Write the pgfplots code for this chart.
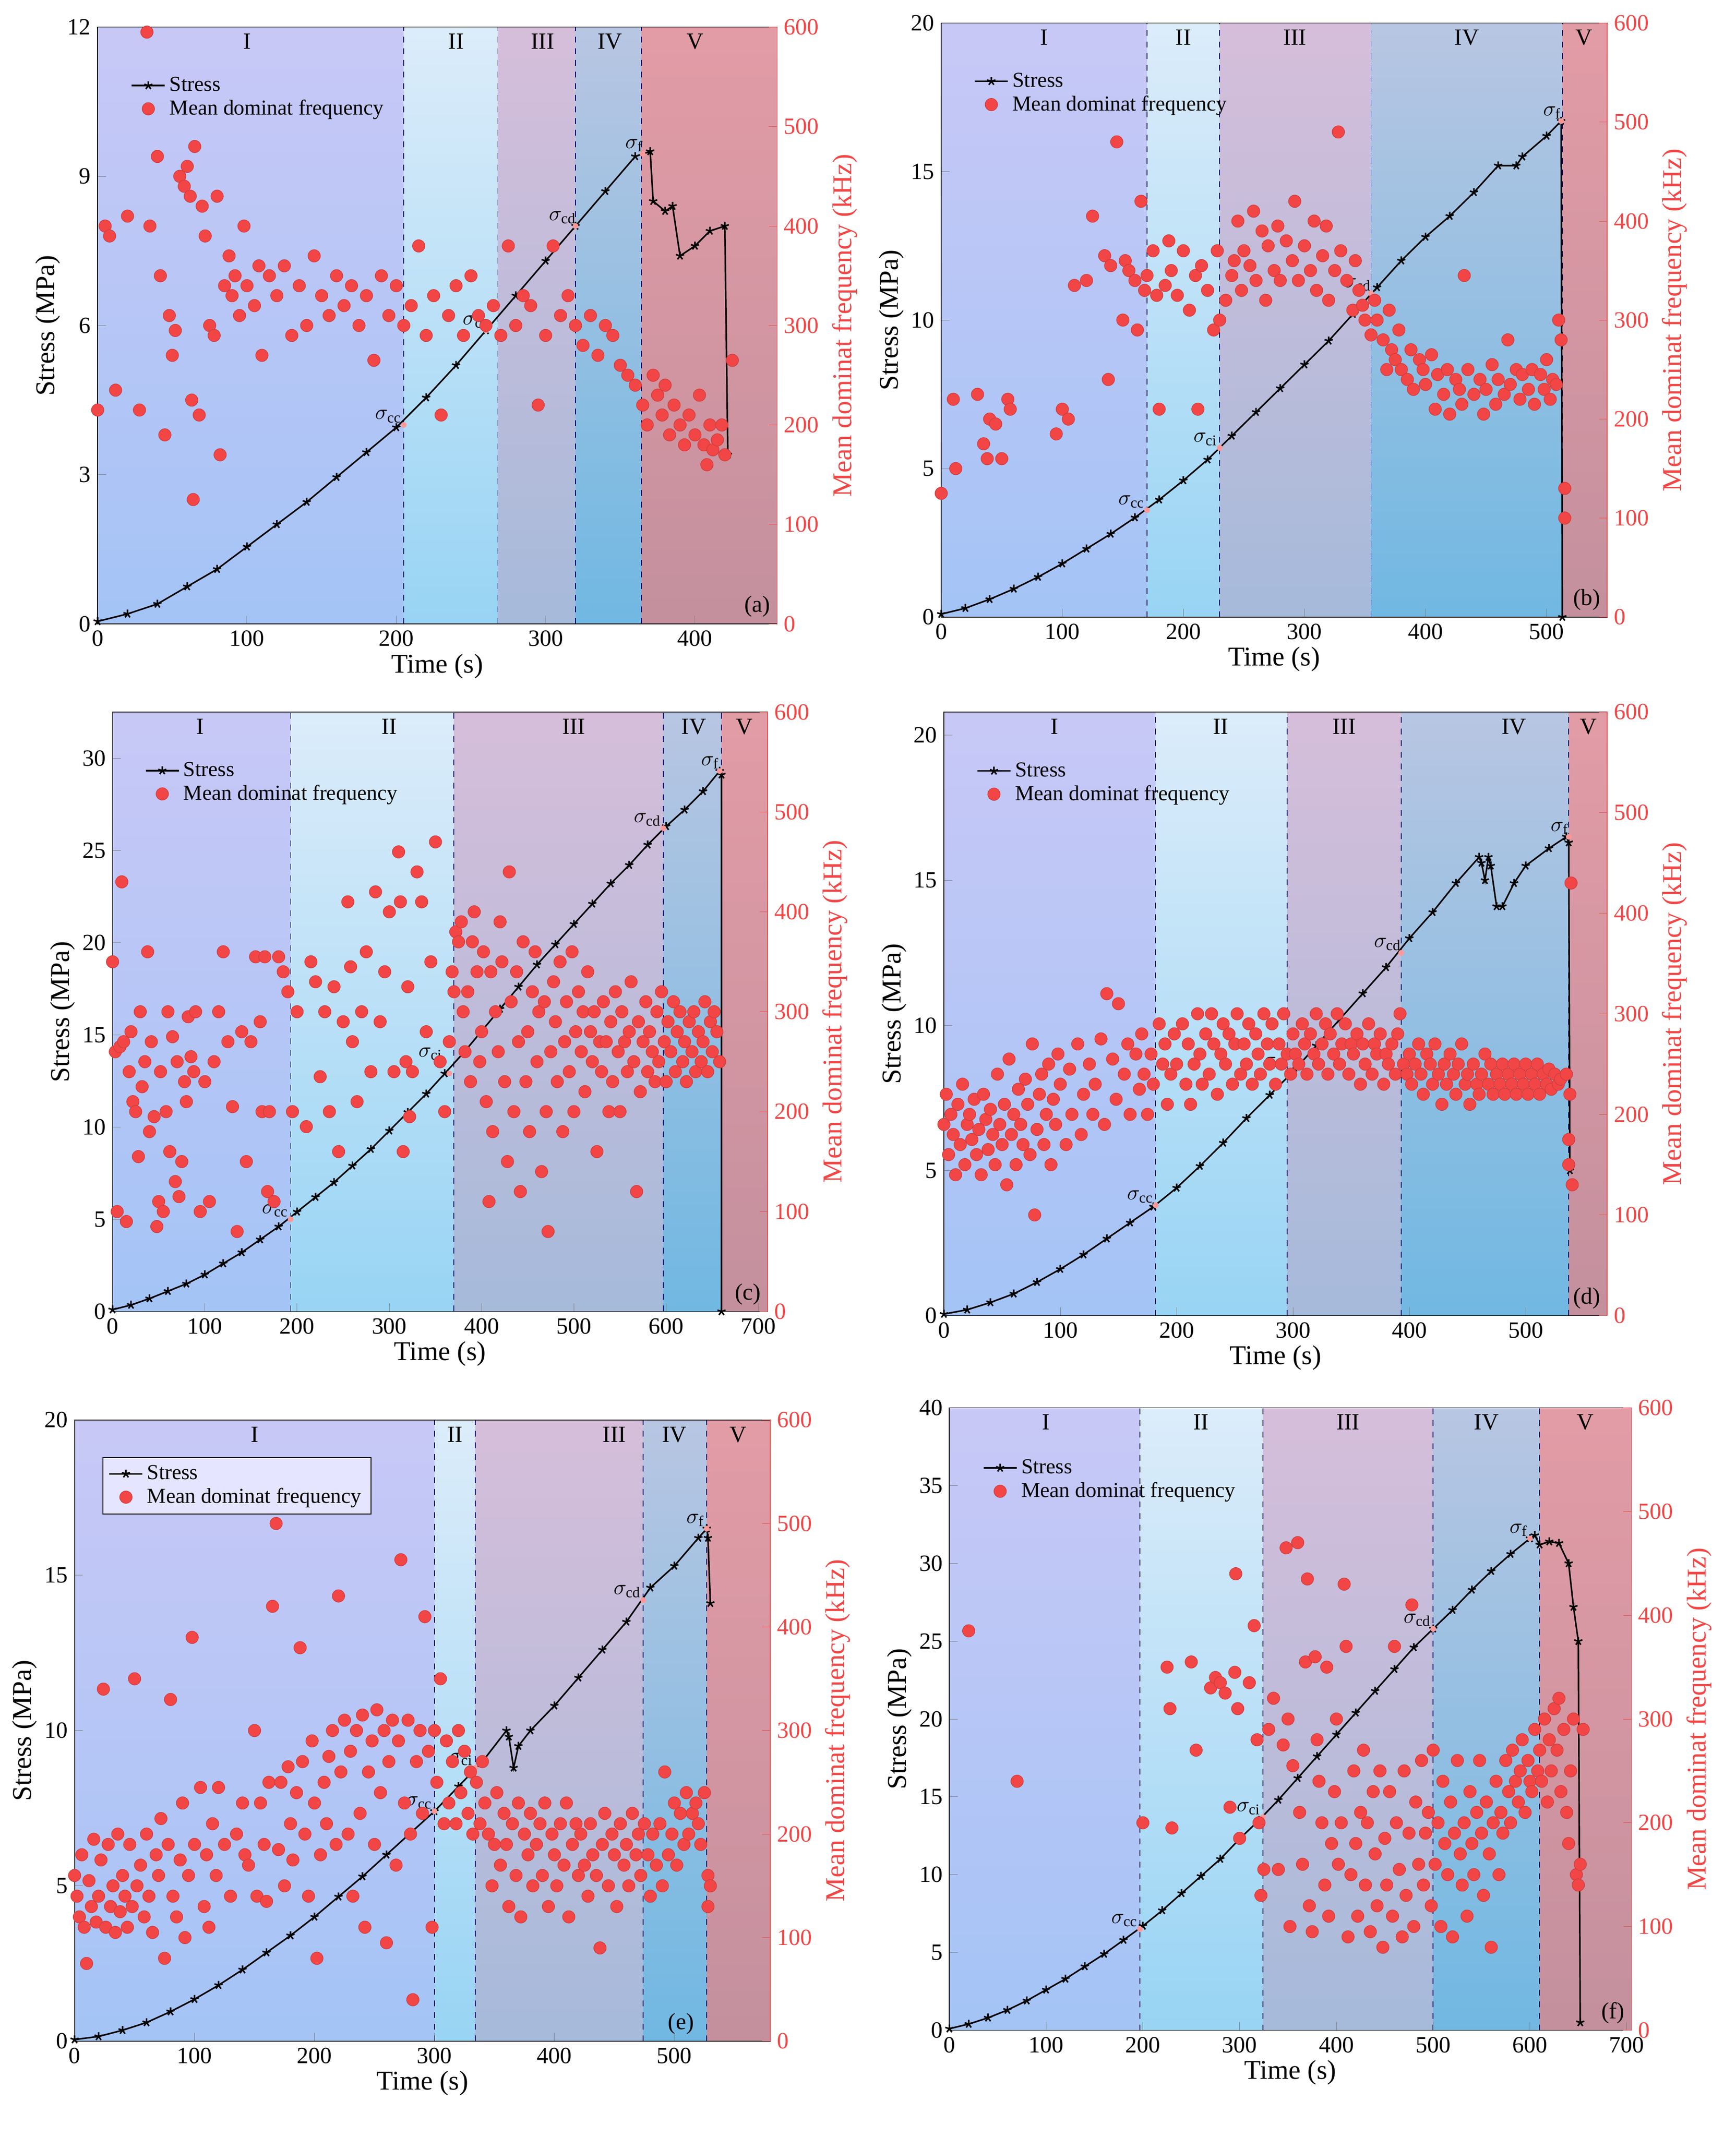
\documentclass[border=0pt]{standalone}
\usepackage{pgfplots}
\pgfplotsset{compat=1.18}
\usepackage{fontspec}
\setmainfont{Liberation Serif}
\usetikzlibrary{shadings}
\definecolor{rIt}{HTML}{C8C8F6}\definecolor{rIb}{HTML}{A4C4F6}
\definecolor{rIIt}{HTML}{DCECFA}\definecolor{rIIb}{HTML}{98D4F4}
\definecolor{rIIIt}{HTML}{D6BEDA}\definecolor{rIIIb}{HTML}{A6BADA}
\definecolor{rIVt}{HTML}{B8C6E2}\definecolor{rIVb}{HTML}{70B8E2}
\definecolor{rVt}{HTML}{E29CA6}\definecolor{rVb}{HTML}{C4909E}
\definecolor{fr}{HTML}{F24646}
\newcommand\reg[5]{\fill[top color=#4,bottom color=#5,draw=none] (axis cs:#1,0) rectangle (axis cs:#2,#3);}
\newcommand\dv[2]{\draw[dashed,color=blue!40!black,thin] (axis cs:#1,0) -- (axis cs:#1,#2);}
\newcommand\rl[3]{\node[anchor=north,font=\fontsize{12}{14}\selectfont] at (axis cs:#1,#2) {#3};}
\pgfplotsset{
 leftax/.style={scale only axis, axis on top, xmin=0, ymin=0, tick align=inside,
   xtick pos=bottom, ytick pos=left, xlabel={Time (s)}, ylabel={Stress (MPa)},
   /pgf/number format/assume math mode=true,
   ticklabel style={font=\fontsize{12}{14}\selectfont},
   label style={font=\fontsize{14}{16}\selectfont},
   xlabel style={yshift=3pt}, ylabel style={yshift=-3pt},
   legend style={draw=none,fill=none,at={(0.04,0.93)},anchor=north west,font=\fontsize{11}{13}\selectfont,row sep=-1pt},
   legend cell align=left},
 rightax/.style={scale only axis, xmin=0, ymin=0, ymax=600, ytick={0,100,...,600},
   axis x line=none, axis y line*=right, tick align=inside,
   /pgf/number format/assume math mode=true,
   y axis line style={fr}, ytick style={fr},
   yticklabel style={font=\fontsize{12}{14}\selectfont, text=fr},
   ylabel={Mean dominat frequency (kHz)},
   ylabel style={font=\fontsize{14}{16}\selectfont, text=fr}},
 st/.style={black, thick, mark=star, mark size=2.2pt, mark options={solid}},
 fq/.style={only marks, mark=*, mark size=3.2pt, mark options={fill=fr, draw=fr!85!black, line width=0.3pt}},
 sg/.style={only marks, mark=*, mark size=1.3pt, color=pink!80!red},
}
\newcommand\mylg{\addlegendimage{st}\addlegendentry{Stress}\addlegendimage{fq}\addlegendentry{Mean dominat frequency}}
\newcommand\sgl[3]{\node[font=\fontsize{11}{12}\selectfont,anchor=south east,inner sep=1pt] at (axis cs:#1,#2) {$\sigma_{\mathrm{#3}}$};}
\begin{document}
\begin{tikzpicture}
\path[use as bounding box] (0,0) rectangle (896pt,-1103pt);
% ---------------- (a)
\begin{axis}[leftax, at={(50.4pt,-322pt)}, width=350.7pt, height=308pt, xmax=455, ymax=12, ytick={0,3,...,12}, xtick={0,100,...,400}]
\reg{0}{205}{12}{rIt}{rIb}\reg{205}{268}{12}{rIIt}{rIIb}\reg{268}{320}{12}{rIIIt}{rIIIb}\reg{320}{364}{12}{rIVt}{rIVb}\reg{364}{455}{12}{rVt}{rVb}
\dv{205}{12}\dv{268}{12}\dv{320}{12}\dv{364}{12}
\rl{100}{12}{I}\rl{240}{12}{II}\rl{298}{12}{III}\rl{343}{12}{IV}\rl{400}{12}{V}
\mylg
\addplot[st] coordinates {(0,0.05)(20,0.2)(40,0.4)(60,0.75)(80,1.1)(100,1.55)(120,2)(140,2.45)(160,2.95)(180,3.45)(200,3.95)(220,4.55)(240,5.2)(260,5.9)(280,6.6)(300,7.3)(320,8.0)(340,8.7)(360,9.4)(370,9.5)(372,8.5)(380,8.3)(385,8.4)(390,7.4)(400,7.6)(410,7.9)(420,8.0)(422,3.4)};
\addplot[sg] coordinates {(205,4.0)(260,5.9)(320,8.0)(365,9.45)};
\sgl{205}{4.0}{cc}\sgl{262}{5.9}{ci}\sgl{322}{8.0}{cd}\sgl{367}{9.45}{f}
\node[anchor=south east,font=\fontsize{12}{14}\selectfont] at (rel axis cs:1,0) {(a)};
\end{axis}
\begin{axis}[rightax, at={(50.4pt,-322pt)}, width=350.7pt, height=308pt, xmax=455]
\addplot[fq] table {
33 595
0 215
5 400
8 390
12 235
20 410
28 215
35 400
40 470
42 350
45 190
48 310
50 270
52 295
55 450
58 440
60 460
62 430
63 225
64 125
65 480
68 210
70 420
72 390
75 300
78 290
80 430
82 170
85 340
88 370
90 330
92 350
95 310
98 400
100 340
105 320
108 360
110 270
115 350
120 330
125 360
130 290
135 340
140 300
145 370
150 330
155 310
160 350
165 320
170 340
175 300
180 330
185 265
190 350
195 310
200 340
205 300
210 320
215 380
220 290
225 330
230 210
235 310
240 340
245 290
250 350
255 310
260 300
265 320
270 290
275 380
280 300
285 330
290 320
295 220
300 290
305 380
310 310
315 330
320 300
325 280
330 310
335 270
340 300
345 290
350 260
355 250
360 240
365 220
368 200
372 250
375 230
378 210
380 240
383 190
386 220
390 200
393 180
396 210
400 190
403 230
406 180
408 160
410 200
412 175
415 185
418 200
420 170
425 265
};
\end{axis}
% ---------------- (b)
\begin{axis}[leftax, at={(485.8pt,-318.5pt)}, width=343.7pt, height=306.6pt, xmax=550, ymax=20, ytick={0,5,...,20}, xtick={0,100,...,500}]
\reg{0}{170}{20}{rIt}{rIb}\reg{170}{230}{20}{rIIt}{rIIb}\reg{230}{355}{20}{rIIIt}{rIIIb}\reg{355}{513}{20}{rIVt}{rIVb}\reg{513}{550}{20}{rVt}{rVb}
\dv{170}{20}\dv{230}{20}\dv{355}{20}\dv{513}{20}
\rl{85}{20}{I}\rl{200}{20}{II}\rl{292}{20}{III}\rl{434}{20}{IV}\rl{531}{20}{V}
\mylg
\addplot[st] coordinates {(0,0.1)(20,0.3)(40,0.6)(60,0.95)(80,1.35)(100,1.8)(120,2.3)(140,2.8)(160,3.35)(180,3.95)(200,4.6)(220,5.3)(240,6.1)(260,6.9)(280,7.7)(300,8.5)(320,9.3)(340,10.2)(360,11.1)(380,12.0)(400,12.8)(420,13.5)(440,14.3)(460,15.2)(475,15.2)(480,15.5)(500,16.2)(512,16.7)(513,0)};
\addplot[sg] coordinates {(170,3.6)(230,5.7)(355,10.9)(512,16.7)};
\sgl{170}{3.6}{cc}\sgl{230}{5.7}{ci}\sgl{357}{10.9}{cd}\sgl{514}{16.7}{f}
\node[anchor=south east,font=\fontsize{12}{14}\selectfont] at (rel axis cs:1,0) {(b)};
\end{axis}
\begin{axis}[rightax, at={(485.8pt,-318.5pt)}, width=343.7pt, height=306.6pt, xmax=550]
\addplot[fq] table {
0 125
10 220
12 150
30 225
35 175
38 160
40 200
45 195
50 160
55 220
57 210
95 185
100 210
105 200
110 335
120 340
125 405
135 365
138 240
140 355
145 480
150 300
152 360
155 350
160 340
162 290
165 420
168 330
170 345
175 370
178 325
180 210
185 335
188 380
190 350
195 325
200 370
205 310
210 345
212 210
215 355
220 330
225 290
228 370
230 300
235 320
240 345
242 360
245 400
248 330
250 370
255 355
258 410
260 340
265 390
268 320
270 375
275 350
278 395
280 340
285 380
290 360
292 420
295 340
300 375
305 350
308 400
310 330
315 365
318 395
320 320
325 350
328 490
330 370
335 340
340 310
342 360
345 330
348 315
350 300
355 285
358 320
360 300
365 280
368 250
370 310
372 270
375 260
378 290
380 250
385 240
388 270
390 230
395 260
398 250
400 235
405 265
408 210
410 245
415 225
418 250
420 205
425 240
428 230
430 215
432 345
435 250
440 225
445 240
448 205
450 230
455 255
458 215
460 240
465 225
468 280
470 235
475 250
478 220
480 245
485 230
488 250
490 215
495 245
498 230
500 260
503 220
505 240
508 235
510 300
512 280
515 130
515 100
};
\end{axis}
% ---------------- (c)
\begin{axis}[leftax, at={(58.1pt,-676.9pt)}, width=338.1pt, height=309.4pt, xmax=710, ymax=32.5, ytick={0,5,...,30}, xtick={0,100,...,700}]
\reg{0}{193}{32.5}{rIt}{rIb}\reg{193}{370}{32.5}{rIIt}{rIIb}\reg{370}{597}{32.5}{rIIIt}{rIIIb}\reg{597}{660}{32.5}{rIVt}{rIVb}\reg{660}{710}{32.5}{rVt}{rVb}
\dv{193}{32.5}\dv{370}{32.5}\dv{597}{32.5}\dv{660}{32.5}
\rl{95}{32.5}{I}\rl{300}{32.5}{II}\rl{500}{32.5}{III}\rl{630}{32.5}{IV}\rl{685}{32.5}{V}
\mylg
\addplot[st] coordinates {(0,0.1)(20,0.35)(40,0.7)(60,1.1)(80,1.5)(100,2)(120,2.6)(140,3.2)(160,3.9)(180,4.6)(200,5.4)(220,6.2)(240,7)(260,7.9)(280,8.8)(300,9.8)(320,10.8)(340,11.8)(360,12.9)(380,14)(400,15.2)(420,16.4)(440,17.6)(460,18.8)(480,19.9)(500,21)(520,22.1)(540,23.2)(560,24.2)(580,25.3)(600,26.3)(620,27.2)(640,28.2)(658,29.3)(660,29.1)(660,0)};
\addplot[sg] coordinates {(193,5)(365,12.9)(597,26.2)(658,29.3)};
\sgl{193}{5}{cc}\sgl{360}{13.5}{ci}\sgl{597}{26.2}{cd}\sgl{660}{29.3}{f}
\node[anchor=south east,font=\fontsize{12}{14}\selectfont] at (rel axis cs:1,0) {(c)};
\end{axis}
\begin{axis}[rightax, at={(58.1pt,-676.9pt)}, width=338.1pt, height=309.4pt, xmax=710]
\addplot[fq] table {
0 350
3 260
5 100
8 265
10 430
12 270
15 90
18 240
20 280
22 210
25 200
28 155
30 300
32 225
35 250
38 360
40 180
42 270
45 195
48 85
50 110
52 240
55 100
58 200
60 300
62 160
65 275
68 130
70 250
72 115
75 150
78 230
80 210
82 295
85 255
88 240
90 300
95 100
100 230
105 110
110 250
115 300
120 360
125 270
130 205
135 80
140 280
145 150
150 270
155 355
160 290
162 200
165 355
168 120
170 200
175 110
180 355
185 340
190 320
195 200
200 300
210 185
215 350
220 330
225 235
230 300
235 200
240 325
245 160
250 290
255 410
258 345
260 270
265 210
270 300
275 360
280 240
285 420
290 290
295 340
300 400
305 240
310 460
312 410
315 160
318 250
320 325
322 195
325 240
330 440
335 410
340 280
345 350
350 470
355 250
360 200
365 270
368 340
370 320
372 380
375 370
378 390
380 300
382 260
385 320
388 230
390 370
392 400
395 340
398 250
400 280
402 360
405 210
408 110
410 340
412 180
415 300
418 260
420 390
422 350
425 230
428 150
430 440
432 310
435 200
438 340
440 270
442 120
445 370
448 230
450 280
452 180
455 320
458 360
460 250
462 300
465 140
468 310
470 200
472 80
475 260
478 330
480 290
482 230
485 350
488 180
490 270
492 310
495 240
498 360
500 200
502 280
505 320
508 260
510 300
512 220
515 340
518 280
520 250
522 300
525 160
528 270
530 240
532 310
535 270
538 200
540 290
542 230
545 320
548 260
550 200
552 300
555 270
558 240
560 280
562 330
565 250
568 120
570 290
572 220
575 270
578 310
580 240
582 280
585 260
588 230
590 300
592 250
595 320
598 270
600 230
602 290
605 260
608 310
610 240
612 280
615 300
618 250
620 270
622 230
625 290
628 260
630 300
632 240
635 280
638 250
640 270
642 310
645 240
648 290
650 260
652 300
655 280
658 250
};
\end{axis}
% ---------------- (d)
\begin{axis}[leftax, at={(487.2pt,-679pt)}, width=342.3pt, height=311.5pt, xmax=570, ymax=20.8, ytick={0,5,...,20}, xtick={0,100,...,500}]
\reg{0}{182}{20.8}{rIt}{rIb}\reg{182}{295}{20.8}{rIIt}{rIIb}\reg{295}{393}{20.8}{rIIIt}{rIIIb}\reg{393}{537}{20.8}{rIVt}{rIVb}\reg{537}{570}{20.8}{rVt}{rVb}
\dv{182}{20.8}\dv{295}{20.8}\dv{393}{20.8}\dv{537}{20.8}
\rl{95}{20.8}{I}\rl{238}{20.8}{II}\rl{344}{20.8}{III}\rl{490}{20.8}{IV}\rl{554}{20.8}{V}
\mylg
\addplot[st] coordinates {(0,0.05)(20,0.2)(40,0.45)(60,0.75)(80,1.15)(100,1.6)(120,2.1)(140,2.65)(160,3.2)(180,3.75)(200,4.4)(220,5.15)(240,5.95)(260,6.8)(280,7.6)(300,8.4)(320,9.3)(340,10.2)(360,11.1)(380,12.0)(400,13)(420,13.9)(440,14.9)(460,15.8)(462,15.6)(465,15.0)(468,15.8)(470,15.5)(475,14.1)(480,14.1)(490,14.9)(500,15.5)(520,16.1)(535,16.5)(537,16.3)(538,5.0)};
\addplot[sg] coordinates {(182,3.8)(295,8.4)(393,12.5)(537,16.5)};
\sgl{182}{3.8}{cc}\sgl{297}{8.4}{ci}\sgl{395}{12.5}{cd}\sgl{539}{16.5}{f}
\node[anchor=south east,font=\fontsize{12}{14}\selectfont] at (rel axis cs:1,0) {(d)};
\end{axis}
\begin{axis}[rightax, at={(487.2pt,-679pt)}, width=342.3pt, height=311.5pt, xmax=570]
\addplot[fq] table {
0 190
2 220
4 160
6 200
8 180
10 140
12 210
14 170
16 230
18 150
20 190
22 200
24 175
26 215
28 160
30 185
32 140
34 220
36 195
38 165
40 205
42 180
44 150
46 240
48 190
50 170
52 210
54 130
56 255
58 180
60 200
62 150
64 225
66 190
68 170
70 235
72 210
74 160
76 270
78 100
80 185
82 220
84 240
86 170
88 200
90 250
92 150
94 215
96 190
98 260
100 230
105 170
108 245
110 200
115 270
118 180
120 220
125 250
128 200
130 230
135 275
138 190
140 320
145 255
148 215
150 310
155 240
158 270
160 200
165 260
168 225
170 280
172 240
175 200
178 260
180 230
185 290
188 250
190 270
192 210
195 240
198 280
200 250
205 290
208 230
210 270
212 210
215 250
218 300
220 260
222 230
225 280
228 240
230 300
232 270
235 220
238 260
240 290
242 250
245 280
248 230
250 270
252 300
255 240
258 270
260 250
262 290
265 230
268 280
270 260
272 240
275 300
278 270
280 250
282 290
285 230
288 270
290 250
292 300
295 260
298 240
300 280
302 260
305 250
308 290
310 270
312 240
315 280
318 260
320 300
322 250
325 270
328 290
330 240
332 280
335 260
338 300
340 250
342 270
345 290
348 240
350 270
352 260
355 280
358 230
360 270
362 250
365 290
368 240
370 270
372 260
375 280
378 230
380 260
382 250
385 270
388 240
390 280
392 300
395 250
398 240
400 260
402 230
405 250
408 270
410 240
412 220
415 260
418 250
420 230
422 270
425 240
428 210
430 250
432 230
435 260
438 240
440 220
442 250
445 270
448 230
450 240
452 210
455 250
458 230
460 220
462 240
465 260
468 230
470 250
472 220
475 240
478 230
480 250
482 220
485 240
488 230
490 250
492 220
495 240
498 230
500 250
502 220
505 240
508 230
510 250
512 220
515 240
518 230
520 245
522 225
525 240
528 230
530 235
535 240
537 175
537 150
538 220
540 130
539 430
};
\end{axis}
% ---------------- (e)
\begin{axis}[leftax, at={(38.5pt,-1053.5pt)}, width=359.1pt, height=320.6pt, xmax=580, ymax=20, ytick={0,5,...,20}, xtick={0,100,...,500},
  legend style={draw=black,fill=white!90!blue,at={(0.04,0.94)}}]
\reg{0}{300}{20}{rIt}{rIb}\reg{300}{334}{20}{rIIt}{rIIb}\reg{334}{474}{20}{rIIIt}{rIIIb}\reg{474}{527}{20}{rIVt}{rIVb}\reg{527}{580}{20}{rVt}{rVb}
\dv{300}{20}\dv{334}{20}\dv{474}{20}\dv{527}{20}
\rl{150}{20}{I}\rl{317}{20}{II}\rl{450}{20}{III}\rl{500}{20}{IV}\rl{553}{20}{V}
\mylg
\addplot[st] coordinates {(0,0.05)(20,0.15)(40,0.35)(60,0.6)(80,0.95)(100,1.35)(120,1.8)(140,2.3)(160,2.85)(180,3.4)(200,4)(220,4.65)(240,5.3)(260,6)(280,6.7)(300,7.4)(320,8.2)(340,9)(360,10)(362,9.8)(366,8.8)(370,9.5)(380,10.0)(400,10.8)(420,11.7)(440,12.6)(460,13.5)(480,14.6)(500,15.3)(520,16.2)(527,16.5)(528,16.2)(530,14.1)};
\addplot[sg] coordinates {(300,7.4)(334,8.8)(474,14.2)(527,16.5)};
\sgl{300}{7.4}{cc}\sgl{334}{8.8}{ci}\sgl{474}{14.2}{cd}\sgl{527}{16.5}{f}
\node[anchor=south east,font=\fontsize{12}{14}\selectfont] at (rel axis cs:0.9,0) {(e)};
\end{axis}
\begin{axis}[rightax, at={(38.5pt,-1053.5pt)}, width=359.1pt, height=320.6pt, xmax=580]
\addplot[fq] table {
0 160
2 140
4 120
6 180
8 110
10 75
12 155
14 130
16 195
18 115
20 140
22 175
24 340
26 110
28 190
30 130
32 150
34 105
36 200
38 125
40 160
42 140
44 110
46 190
48 130
50 350
52 150
55 170
58 120
60 200
62 140
65 105
68 180
70 160
72 215
75 80
78 190
80 330
82 140
85 120
88 175
90 230
92 100
95 160
98 390
100 190
105 245
108 130
110 180
112 110
115 210
118 160
120 245
125 190
130 140
135 200
140 230
142 180
145 170
150 300
152 140
155 230
158 190
160 135
162 250
165 420
168 500
170 185
172 250
175 150
178 265
180 210
182 175
185 240
188 380
190 270
192 200
195 140
198 290
200 230
202 80
205 180
208 250
210 210
212 275
215 300
218 190
220 430
222 260
225 310
228 200
230 280
232 140
235 300
238 220
240 315
242 110
245 260
248 290
250 190
252 320
255 240
258 300
260 95
262 270
265 310
268 170
270 290
272 465
275 230
278 310
280 200
282 40
285 270
288 300
290 220
292 410
295 280
298 110
300 300
302 250
305 350
308 210
310 290
312 230
315 270
318 210
320 300
322 240
325 280
328 220
330 260
332 200
335 250
338 210
340 270
342 230
345 200
348 150
350 190
352 240
355 170
358 220
360 190
362 130
365 210
368 160
370 230
372 120
375 200
378 180
380 220
382 150
385 190
388 210
390 160
392 230
395 130
398 200
400 180
402 150
405 210
408 170
410 230
412 120
415 190
418 210
420 160
422 200
425 170
428 140
430 210
432 180
435 160
438 90
440 190
442 220
445 150
448 200
450 180
452 130
455 210
458 170
460 190
462 150
465 220
468 180
470 200
472 160
475 210
478 180
480 140
482 200
485 170
488 210
490 150
492 260
495 180
498 200
500 230
502 170
505 220
508 190
510 240
512 200
515 220
518 230
520 210
522 190
525 240
528 160
528 130
530 150
};
\end{axis}
% ---------------- (f)
\begin{axis}[leftax, at={(490pt,-1047.9pt)}, width=352.1pt, height=321.3pt, xmax=705, ymax=40, ytick={0,5,...,40}, xtick={0,100,...,700}]
\reg{0}{197}{40}{rIt}{rIb}\reg{197}{324}{40}{rIIt}{rIIb}\reg{324}{500}{40}{rIIIt}{rIIIb}\reg{500}{610}{40}{rIVt}{rIVb}\reg{610}{705}{40}{rVt}{rVb}
\dv{197}{40}\dv{324}{40}\dv{500}{40}\dv{610}{40}
\rl{100}{40}{I}\rl{260}{40}{II}\rl{412}{40}{III}\rl{555}{40}{IV}\rl{657}{40}{V}
\mylg
\addplot[st] coordinates {(0,0.1)(20,0.4)(40,0.8)(60,1.3)(80,1.9)(100,2.6)(120,3.3)(140,4.1)(160,4.9)(180,5.8)(200,6.7)(220,7.7)(240,8.8)(260,9.9)(280,11)(300,12.3)(320,13.5)(340,14.8)(360,16.2)(380,17.6)(400,19)(420,20.4)(440,21.8)(460,23.2)(480,24.6)(500,25.8)(520,27)(540,28.3)(560,29.5)(580,30.6)(600,31.6)(605,31.8)(610,31.2)(620,31.4)(630,31.3)(640,30)(645,27.2)(650,25)(652,0.5)};
\addplot[sg] coordinates {(197,6.5)(324,13.7)(500,25.8)(600,31.6)};
\sgl{197}{6.5}{cc}\sgl{324}{13.7}{ci}\sgl{500}{25.8}{cd}\sgl{600}{31.6}{f}
\node[anchor=south east,font=\fontsize{12}{14}\selectfont] at (rel axis cs:1,0) {(f)};
\end{axis}
\begin{axis}[rightax, at={(490pt,-1047.9pt)}, width=352.1pt, height=321.3pt, xmax=705]
\addplot[fq] table {
20 385
70 240
200 200
225 350
228 310
230 195
250 355
255 270
270 330
275 340
280 335
285 325
290 215
295 345
296 440
298 310
300 185
310 335
315 390
318 280
320 200
322 130
325 155
330 290
335 320
340 155
345 275
348 465
350 300
352 100
355 255
360 470
362 210
365 160
368 355
370 435
372 120
375 95
378 360
380 280
382 240
385 200
388 140
390 350
392 110
395 180
398 230
400 300
402 160
405 200
408 430
410 370
412 90
415 150
418 250
420 180
422 110
425 210
428 270
430 140
432 200
435 95
438 230
440 170
442 120
445 250
448 80
450 185
452 140
455 230
458 110
460 370
462 200
465 155
468 90
470 250
472 130
475 190
478 410
480 100
482 220
485 160
488 260
490 140
492 190
495 210
498 120
500 270
502 160
505 200
508 100
510 240
512 180
515 150
518 220
520 90
522 190
525 260
528 170
530 140
532 200
535 110
538 230
540 180
542 150
545 210
548 260
550 190
552 130
555 220
558 170
560 80
562 200
565 240
568 150
570 210
572 190
575 260
578 230
580 200
582 270
585 240
588 220
590 250
592 280
595 210
598 260
600 240
602 230
605 290
608 250
610 270
612 240
615 300
618 220
620 280
622 250
625 310
628 270
630 320
632 230
635 290
638 210
640 180
642 250
645 300
648 150
650 140
652 160
655 290
};
\end{axis}
\end{tikzpicture}
\end{document}
